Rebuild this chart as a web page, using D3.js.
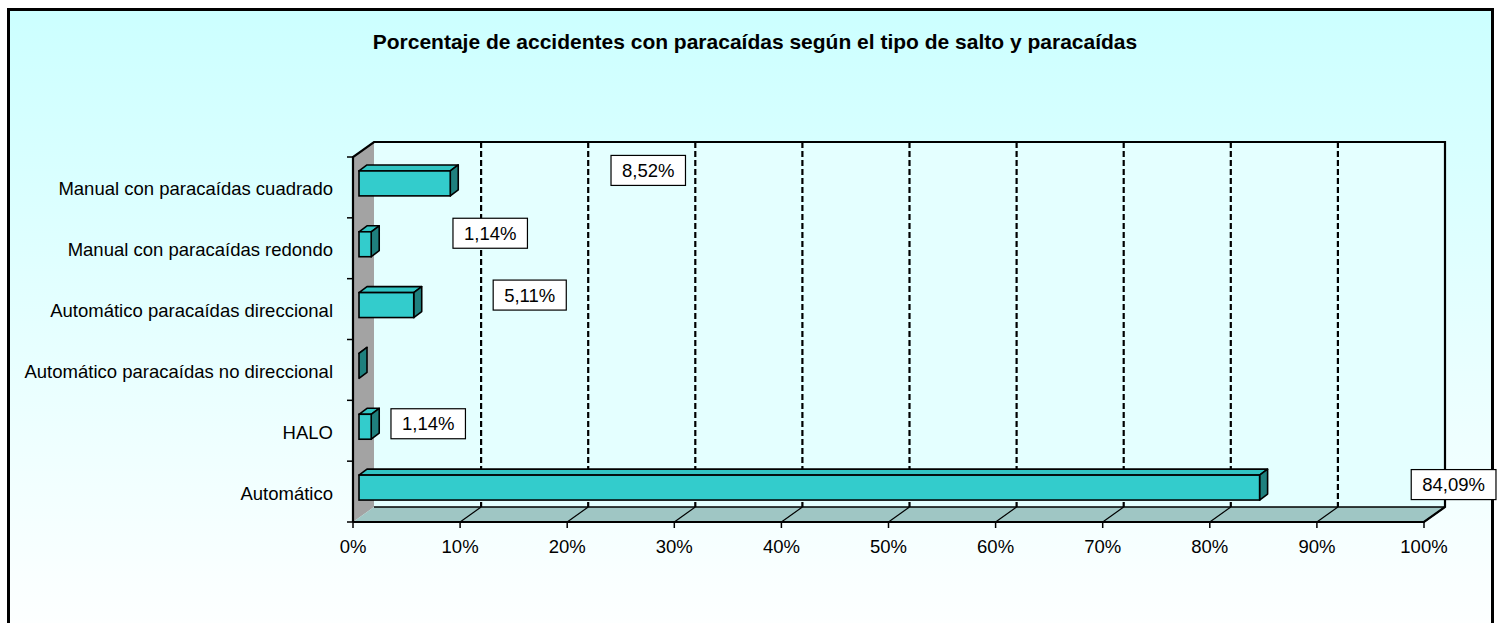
<!DOCTYPE html>
<html>
<head>
<meta charset="utf-8">
<script src="https://cdn.jsdelivr.net/npm/d3@7"></script>
<style>
  body { margin: 0; background: #fff; }
  text { font-family: "Liberation Sans", Arial, sans-serif; fill: #000; }
</style>
</head>
<body>
<div class="chart"></div>
<script>
(function () {

	var title = "Porcentaje de accidentes con paracaídas según el tipo de salto y paracaídas";
	var categories = [
		"Manual con paracaídas cuadrado",
		"Manual con paracaídas redondo",
		"Automático paracaídas direccional",
		"Automático paracaídas no direccional",
		"HALO",
		"Automático"
	];
	var values = [8.52, 1.14, 5.11, 0, 1.14, 84.09];
	var valueLabels = ["8,52%", "1,14%", "5,11%", "", "1,14%", "84,09%"];
	var tickValues = [0, 10, 20, 30, 40, 50, 60, 70, 80, 90, 100];

	// where excel left the data labels, relative to the bar end (layout only)
	var labelNudge = [[198, -13], [119, -11], [116, -10], [0, 0], [57, -3], [194, -3]];

	var W = 1499, H = 623;
	var DX = 21, DY = -15;       // depth of the walls
	var BX = 6, BY = -4;         // bar plane offset inside the depth
	var BDX = 8, BDY = -6;       // depth of a bar
	var FS = "18.5px";

	var svg = d3.select(".chart").append("svg")
		.attr("width", W)
		.attr("height", H);

	var defs = svg.append("defs");
	var grad = defs.append("linearGradient")
		.attr("id", "bg")
		.attr("x1", 0).attr("y1", 0).attr("x2", 0).attr("y2", 1);
	grad.append("stop").attr("offset", "0%").attr("stop-color", "#ccffff");
	grad.append("stop").attr("offset", "100%").attr("stop-color", "#ffffff");

	// chart area
	svg.append("rect")
		.attr("x", 8.5).attr("y", 9.5)
		.attr("width", 1484).attr("height", 640)
		.attr("fill", "url(#bg)")
		.attr("stroke", "#000")
		.attr("stroke-width", 3);

	var x = d3.scaleLinear().domain([0, 100]).range([353, 1424]);
	var y = d3.scaleBand().domain(categories).range([157, 522])
		.paddingInner(0.59).paddingOuter(0.295);

	var x0 = x(0), x1 = x(100), yTop = 157, yBot = 522;

	function pts(a) { return a.map(function (p) { return p.join(","); }).join(" "); }

	// back wall
	svg.append("rect")
		.attr("x", x0 + DX).attr("y", yTop + DY)
		.attr("width", x1 - x0).attr("height", yBot - yTop)
		.attr("fill", "#e4ffff");

	// left wall
	svg.append("polygon")
		.attr("points", pts([[x0, yTop], [x0 + DX, yTop + DY], [x0 + DX, yBot + DY], [x0, yBot]]))
		.attr("fill", "#a3a3a3");

	// floor
	svg.append("polygon")
		.attr("points", pts([[x0, yBot], [x0 + DX, yBot + DY], [x1 + DX, yBot + DY], [x1, yBot]]))
		.attr("fill", "#9fc6c4");

	// dashed gridlines on the back wall
	svg.selectAll(".grid")
		.data(tickValues.slice(1, -1))
		.enter().append("line")
		.attr("class", "grid")
		.attr("x1", function (d) { return x(d) + DX; })
		.attr("x2", function (d) { return x(d) + DX; })
		.attr("y1", yTop + DY)
		.attr("y2", yBot + DY)
		.attr("stroke", "#000")
		.attr("stroke-width", 2.2)
		.attr("stroke-dasharray", "6,3");

	// gridlines across the floor
	svg.selectAll(".floorgrid")
		.data(tickValues.slice(1))
		.enter().append("line")
		.attr("class", "floorgrid")
		.attr("x1", function (d) { return x(d); })
		.attr("x2", function (d) { return x(d) + DX; })
		.attr("y1", yBot)
		.attr("y2", yBot + DY)
		.attr("stroke", "#000")
		.attr("stroke-width", 1.2);

	// frame of the walls
	svg.append("polyline")
		.attr("points", pts([[x0, yBot], [x0, yTop], [x0 + DX, yTop + DY], [x1 + DX, yTop + DY],
			[x1 + DX, yBot + DY], [x1, yBot], [x0, yBot]]))
		.attr("fill", "none")
		.attr("stroke", "#000")
		.attr("stroke-width", 2.2);
	svg.append("line")
		.attr("x1", x0 + DX).attr("x2", x1 + DX)
		.attr("y1", yBot + DY).attr("y2", yBot + DY)
		.attr("stroke", "#000").attr("stroke-width", 1.5);

	// bars
	var bar = svg.selectAll(".bar")
		.data(categories)
		.enter().append("g")
		.attr("class", "bar");

	function barGeom(d, i) {
		var a = x(0) + BX, b = x(values[i]) + BX;
		var t = y(d) + BY, h = y.bandwidth();
		return { a: a, b: b, t: t, h: h };
	}

	bar.append("polygon")
		.attr("points", function (d, i) {
			var g = barGeom(d, i);
			return pts([[g.a, g.t], [g.b, g.t], [g.b + BDX, g.t + BDY], [g.a + BDX, g.t + BDY]]);
		})
		.attr("fill", "#31c4c2")
		.attr("stroke", "#000")
		.attr("stroke-width", 1.6)
		.attr("stroke-linejoin", "round");

	bar.append("polygon")
		.attr("points", function (d, i) {
			var g = barGeom(d, i);
			return pts([[g.b, g.t], [g.b + BDX, g.t + BDY], [g.b + BDX, g.t + g.h + BDY], [g.b, g.t + g.h]]);
		})
		.attr("fill", "#1f807e")
		.attr("stroke", "#000")
		.attr("stroke-width", 1.6)
		.attr("stroke-linejoin", "round");

	bar.filter(function (d, i) { return values[i] > 0; })
		.append("rect")
		.attr("x", function (d) { return x(0) + BX; })
		.attr("y", function (d) { return y(d) + BY; })
		.attr("width", function (d) { return x(values[categories.indexOf(d)]) - x(0); })
		.attr("height", y.bandwidth())
		.attr("fill", "#33cccc")
		.attr("stroke", "#000")
		.attr("stroke-width", 1.6);

	// x axis ticks and labels
	svg.selectAll(".xtick")
		.data(tickValues)
		.enter().append("line")
		.attr("class", "xtick")
		.attr("x1", function (d) { return x(d); })
		.attr("x2", function (d) { return x(d); })
		.attr("y1", yBot)
		.attr("y2", yBot + 6)
		.attr("stroke", "#000")
		.attr("stroke-width", 1.5);

	svg.selectAll(".xlab")
		.data(tickValues)
		.enter().append("text")
		.attr("class", "xlab")
		.attr("x", function (d) { return x(d); })
		.attr("y", 553)
		.attr("text-anchor", "middle")
		.style("font-size", FS)
		.text(function (d) { return d + "%"; });

	// y axis ticks and labels
	var bounds = categories.map(function (d) { return y(d) - y.step() * y.paddingInner() / 2; });
	bounds.push(yBot);
	svg.selectAll(".ytick")
		.data(bounds)
		.enter().append("line")
		.attr("class", "ytick")
		.attr("x1", x0 - 6)
		.attr("x2", x0)
		.attr("y1", function (d) { return d; })
		.attr("y2", function (d) { return d; })
		.attr("stroke", "#000")
		.attr("stroke-width", 1.5);

	svg.selectAll(".ylab")
		.data(categories)
		.enter().append("text")
		.attr("class", "ylab")
		.attr("x", 333)
		.attr("y", function (d) { return y(d) + y.bandwidth() / 2 + 8; })
		.attr("text-anchor", "end")
		.style("font-size", FS)
		.text(function (d) { return d; });

	// data labels
	var lab = svg.selectAll(".dlab")
		.data(categories.filter(function (d, i) { return values[i] > 0; }))
		.enter().append("g")
		.attr("class", "dlab")
		.attr("transform", function (d) {
			var i = categories.indexOf(d);
			var cx = x(values[i]) + BX + labelNudge[i][0];
			var cy = y(d) + BY + y.bandwidth() / 2 + labelNudge[i][1];
			return "translate(" + cx + "," + cy + ")";
		});

	lab.append("rect");
	lab.append("text")
		.attr("text-anchor", "middle")
		.attr("y", 6.5)
		.style("font-size", FS)
		.text(function (d) { return valueLabels[categories.indexOf(d)]; });
	lab.each(function () {
		var g = d3.select(this);
		var w = g.select("text").node().getBBox().width + 22;
		g.select("rect")
			.attr("x", -w / 2).attr("y", -15)
			.attr("width", w).attr("height", 30)
			.attr("fill", "#fff")
			.attr("stroke", "#000")
			.attr("stroke-width", 1.2);
	});

	// title
	svg.append("text")
		.attr("x", 755)
		.attr("y", 49)
		.attr("text-anchor", "middle")
		.style("font-size", "21px")
		.style("font-weight", "bold")
		.text(title);

})();
</script>
</body>
</html>
